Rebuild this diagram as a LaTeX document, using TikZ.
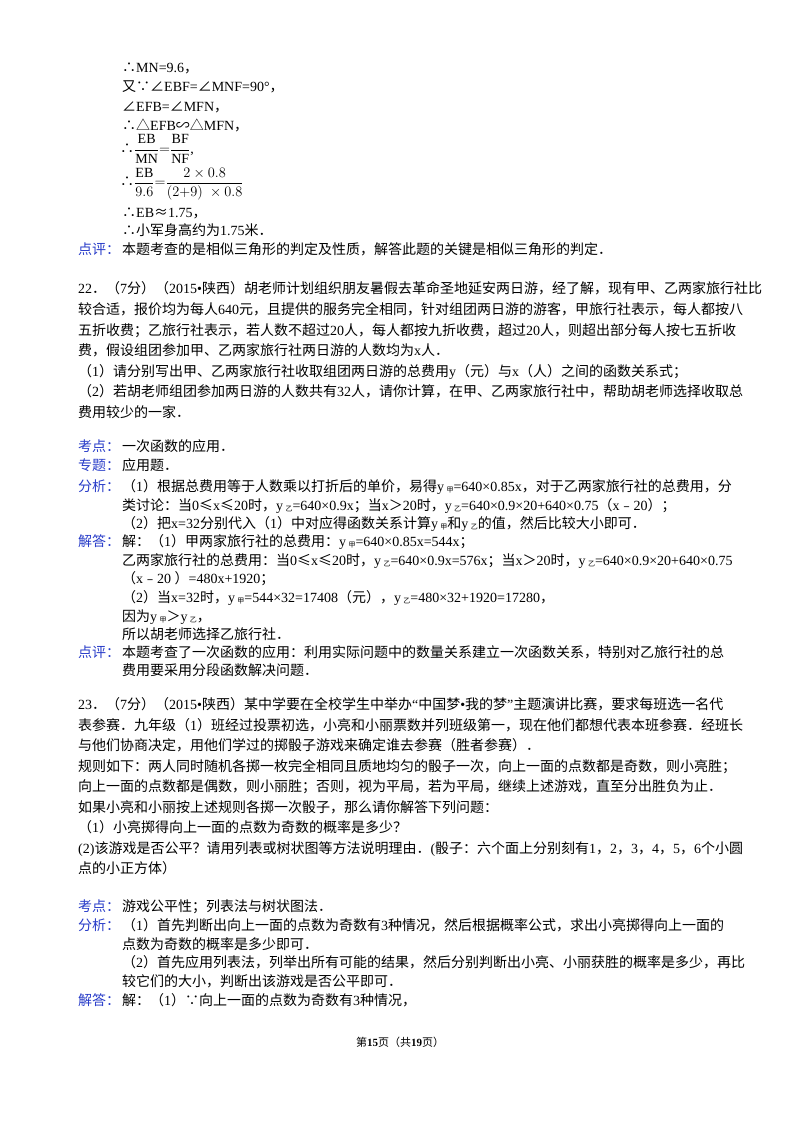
\documentclass[tikz,border=0pt]{standalone}
\usepackage{fontspec}
\setmainfont{Liberation Serif}
\newfontfamily\cjk{Noto Sans CJK SC}
\XeTeXinterchartokenstate=1
\newXeTeXintercharclass\cjkclass
\newcount\cc
\def\setrange#1#2{\cc=#1\relax\loop\XeTeXcharclass\cc=\cjkclass\advance\cc by 1\relax\ifnum\cc<#2\repeat}
\setrange{"4E00}{"A000}
\setrange{"3000}{"3040}
\setrange{"FF00}{"FFF0}
\setrange{"FE30}{"FE70}
\setrange{"2234}{"2236}
\XeTeXcharclass"2220=\cjkclass
\XeTeXcharclass"223D=\cjkclass
\XeTeXcharclass"25B3=\cjkclass
\XeTeXcharclass"2248=\cjkclass
\XeTeXcharclass"2264=\cjkclass
\XeTeXinterchartoks 0 \cjkclass = {\cjk}
\XeTeXinterchartoks 4095 \cjkclass = {\cjk}
\XeTeXinterchartoks \cjkclass 0 = {\rmfamily}
\XeTeXinterchartoks \cjkclass 4095 = {\rmfamily}
\definecolor{lab}{RGB}{40,60,200}
\newcommand\sbx[1]{\,\raisebox{-1.5pt}{\fontsize{7}{7}\selectfont #1}}
\begin{document}
\begin{tikzpicture}[x=1pt,y=-1pt,every node/.style={anchor=base west,inner sep=0pt,font=\fontsize{14}{16}\selectfont}]
\useasboundingbox (0,0) rectangle (800,1132);
\newcommand\T[3]{\node at (#1,#2) {#3};}
\newcommand\B[3]{\node[text=lab] at (#1,#2) {#3};}
\T{122}{73}{∴MN=9.6，}
\T{122}{92}{又∵∠EBF=∠MNF=90°，}
\T{122}{111}{∠EFB=∠MFN，}
\T{122}{130}{∴△EFB∽△MFN，}
\node[anchor=west] (f1) at (120,149) {∴$\displaystyle\frac{\mathrm{EB}}{\mathrm{MN}}{=}\frac{\mathrm{BF}}{\mathrm{NF}}$,};
\node[anchor=west] (f2) at (120,184) {∴$\displaystyle\frac{\mathrm{EB}}{9.6}{=}\frac{\;2\times0.8\;}{(2{+}9)\;\times0.8}$};
\T{122}{217}{∴EB≈1.75，}
\T{122}{235}{∴小军身高约为1.75米．}
\B{78}{254}{点评：}
\T{122}{254}{本题考查的是相似三角形的判定及性质，解答此题的关键是相似三角形的判定．}
\T{78}{293}{22．（7分）（2015•陕西）胡老师计划组织朋友暑假去革命圣地延安两日游，经了解，现有甲、乙两家旅行社比}
\T{78}{314}{较合适，报价均为每人640元，且提供的服务完全相同，针对组团两日游的游客，甲旅行社表示，每人都按八}
\T{78}{335}{五折收费；乙旅行社表示，若人数不超过20人，每人都按九折收费，超过20人，则超出部分每人按七五折收}
\T{78}{355}{费，假设组团参加甲、乙两家旅行社两日游的人数均为x人．}
\T{78}{376}{（1）请分别写出甲、乙两家旅行社收取组团两日游的总费用y（元）与x（人）之间的函数关系式；}
\T{78}{396}{（2）若胡老师组团参加两日游的人数共有32人，请你计算，在甲、乙两家旅行社中，帮助胡老师选择收取总}
\T{78}{417}{费用较少的一家．}
\B{78}{451}{考点：}\T{122}{451}{一次函数的应用．}
\B{78}{470}{专题：}\T{122}{470}{应用题．}
\B{78}{491}{分析：}\T{122}{491}{（1）根据总费用等于人数乘以打折后的单价，易得y\sbx{甲}=640×0.85x，对于乙两家旅行社的总费用，分}
\T{122}{510}{类讨论：当0≤x≤20时，y\sbx{乙}=640×0.9x；当x＞20时，y\sbx{乙}=640×0.9×20+640×0.75（x﹣20）；}
\T{122}{528}{（2）把x=32分别代入（1）中对应得函数关系计算y\sbx{甲}和y\sbx{乙}的值，然后比较大小即可．}
\B{78}{546}{解答：}\T{122}{546}{解：（1）甲两家旅行社的总费用：y\sbx{甲}=640×0.85x=544x；}
\T{122}{565}{乙两家旅行社的总费用：当0≤x≤20时，y\sbx{乙}=640×0.9x=576x；当x＞20时，y\sbx{乙}=640×0.9×20+640×0.75}
\T{122}{583}{（x﹣20 ）=480x+1920；}
\T{122}{602}{（2）当x=32时，y\sbx{甲}=544×32=17408（元），y\sbx{乙}=480×32+1920=17280，}
\T{122}{621}{因为y\sbx{甲}＞y\sbx{乙}，}
\T{122}{639}{所以胡老师选择乙旅行社．}
\B{78}{657}{点评：}\T{122}{657}{本题考查了一次函数的应用：利用实际问题中的数量关系建立一次函数关系，特别对乙旅行社的总}
\T{122}{675}{费用要采用分段函数解决问题．}
\T{78}{709}{23．（7分）（2015•陕西）某中学要在全校学生中举办“中国梦•我的梦”主题演讲比赛，要求每班选一名代}
\T{78}{730}{表参赛．九年级（1）班经过投票初选，小亮和小丽票数并列班级第一，现在他们都想代表本班参赛．经班长}
\T{78}{750}{与他们协商决定，用他们学过的掷骰子游戏来确定谁去参赛（胜者参赛）．}
\T{78}{771}{规则如下：两人同时随机各掷一枚完全相同且质地均匀的骰子一次，向上一面的点数都是奇数，则小亮胜；}
\T{78}{791}{向上一面的点数都是偶数，则小丽胜；否则，视为平局，若为平局，继续上述游戏，直至分出胜负为止．}
\T{78}{812}{如果小亮和小丽按上述规则各掷一次骰子，那么请你解答下列问题：}
\T{78}{832}{（1）小亮掷得向上一面的点数为奇数的概率是多少？}
\T{78}{853}{(2)该游戏是否公平？请用列表或树状图等方法说明理由．(骰子：六个面上分别刻有1，2，3，4，5，6个小圆}
\T{78}{873}{点的小正方体）}
\B{78}{911}{考点：}\T{122}{911}{游戏公平性；列表法与树状图法．}
\B{78}{930}{分析：}\T{122}{930}{（1）首先判断出向上一面的点数为奇数有3种情况，然后根据概率公式，求出小亮掷得向上一面的}
\T{122}{949}{点数为奇数的概率是多少即可．}
\T{122}{967}{（2）首先应用列表法，列举出所有可能的结果，然后分别判断出小亮、小丽获胜的概率是多少，再比}
\T{122}{986}{较它们的大小，判断出该游戏是否公平即可．}
\B{78}{1005}{解答：}\T{122}{1005}{解：（1）∵向上一面的点数为奇数有3种情况，}
\node[anchor=base,font=\fontsize{11}{12}\selectfont] at (400,1046) {第\textbf{15}页（共\textbf{19}页）};
\end{tikzpicture}
\end{document}
